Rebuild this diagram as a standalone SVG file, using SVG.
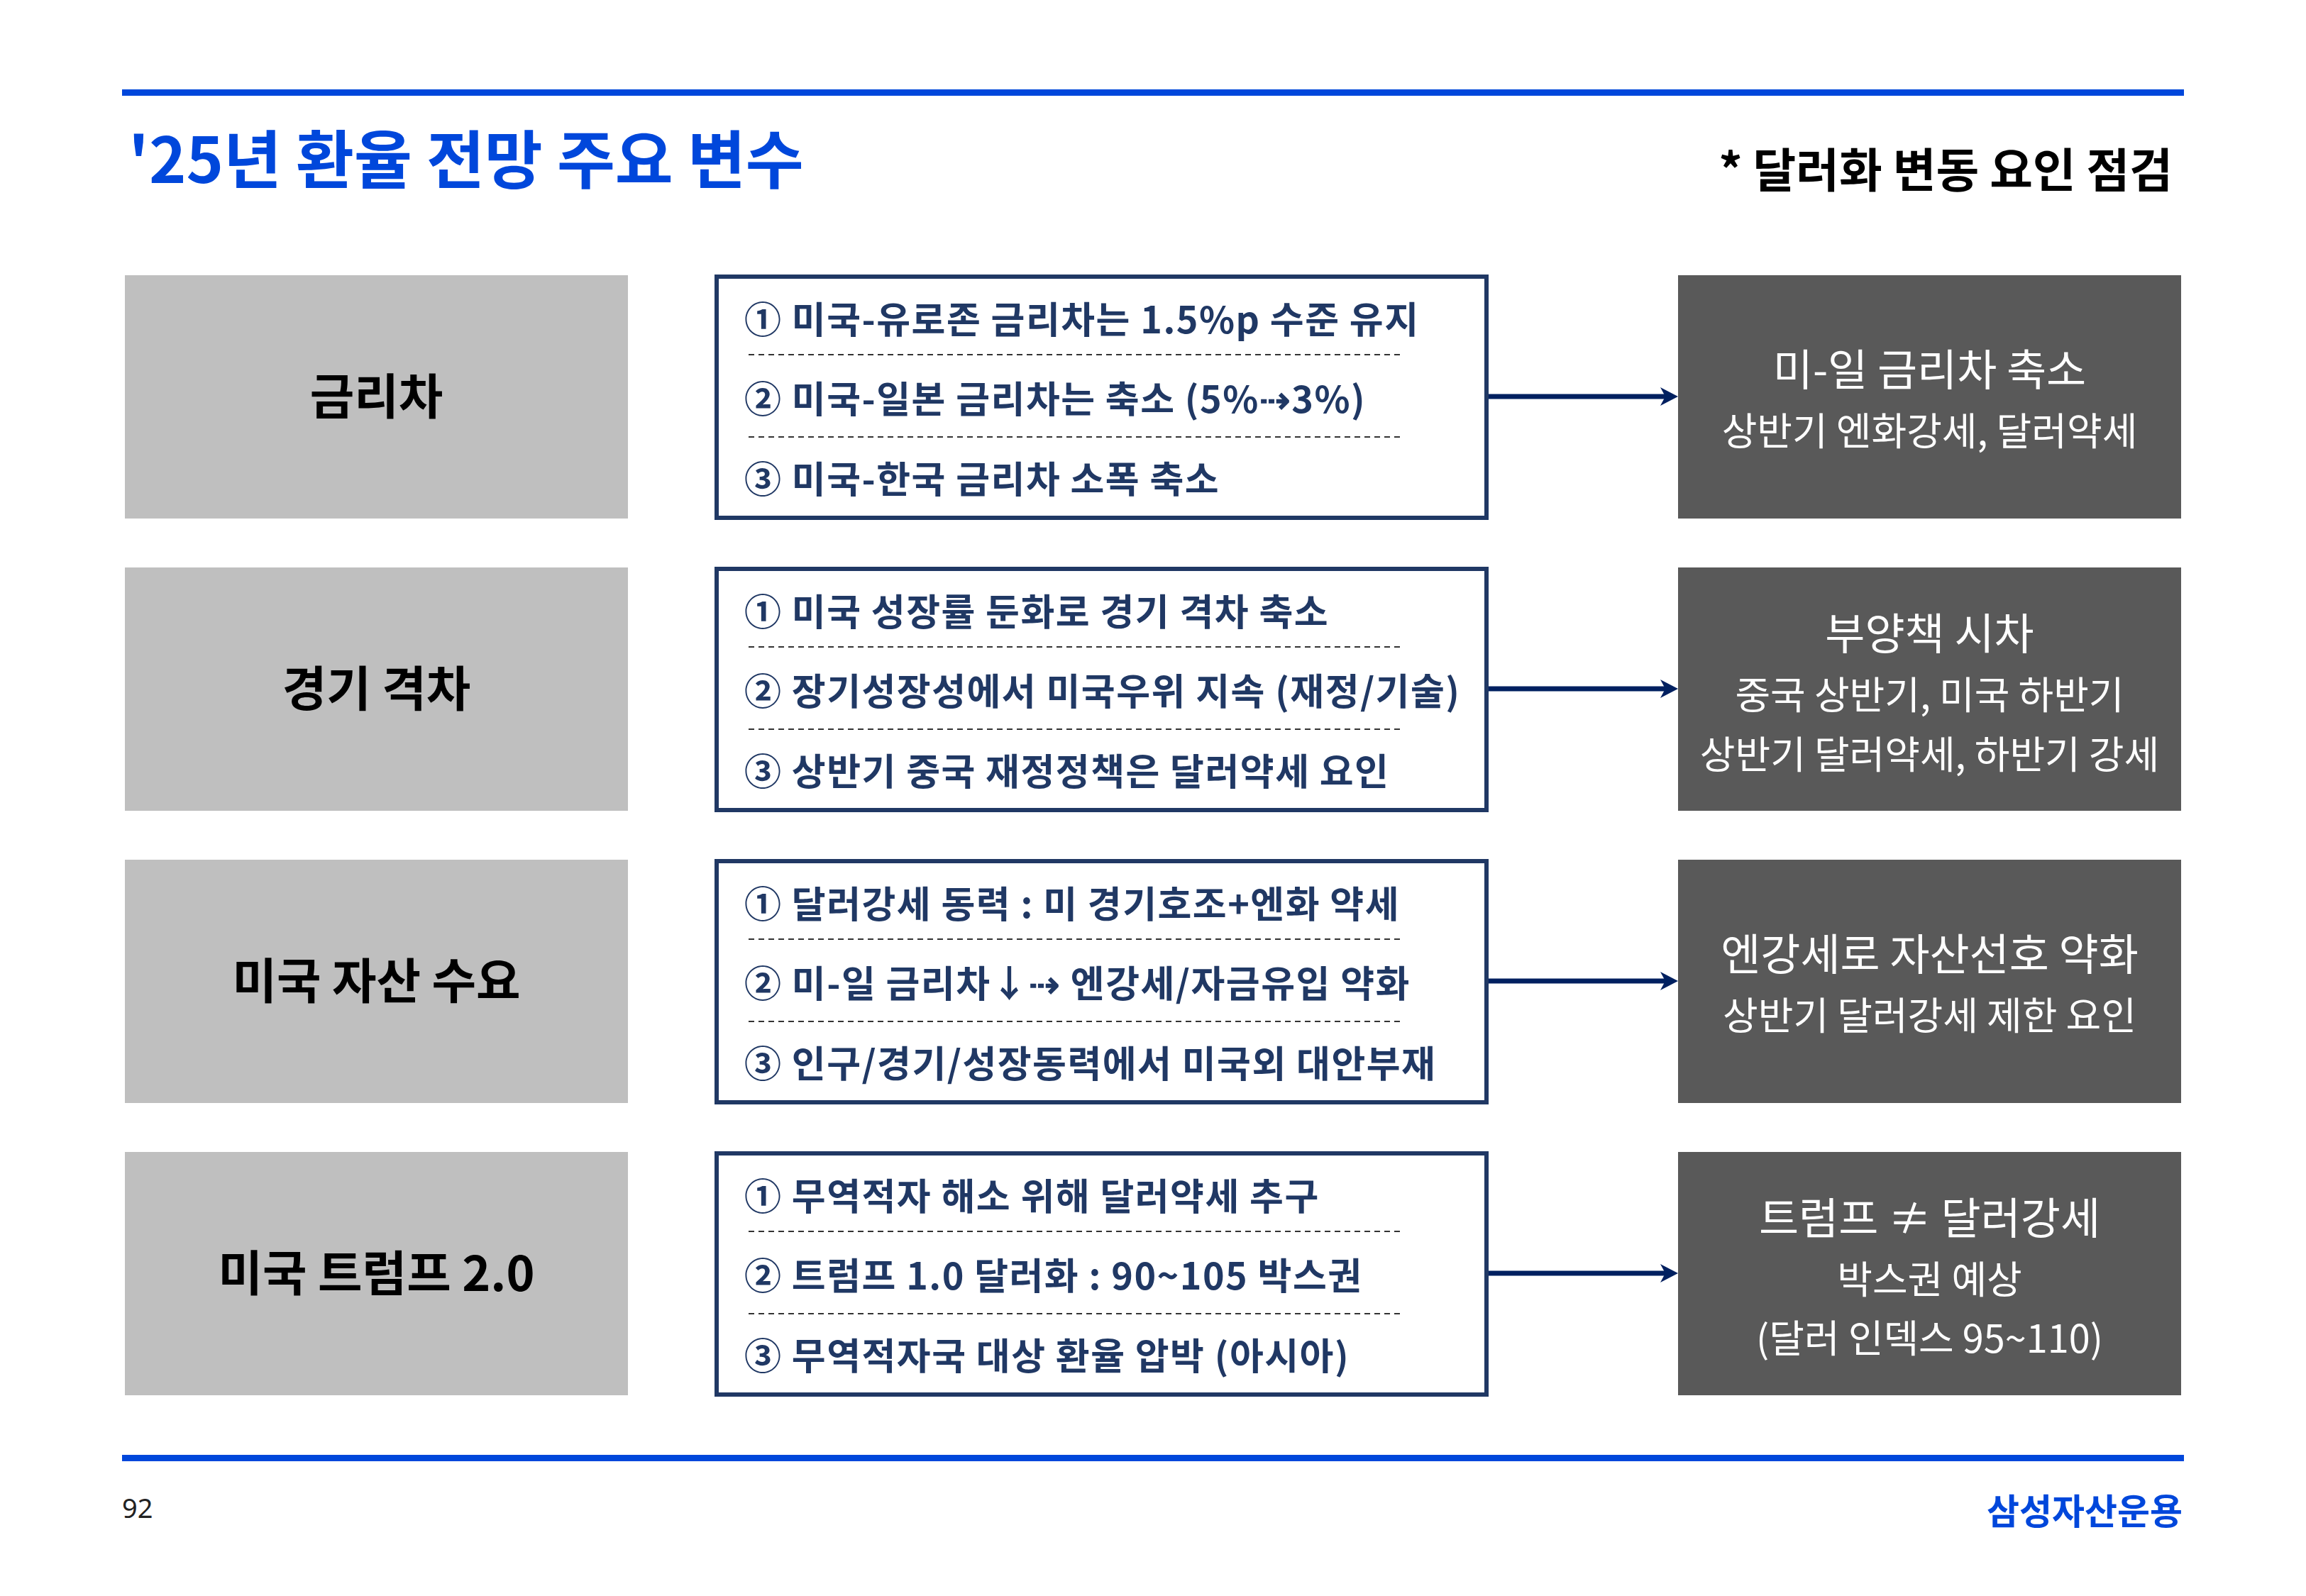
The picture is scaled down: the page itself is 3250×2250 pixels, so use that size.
<svg xmlns="http://www.w3.org/2000/svg" width="3250" height="2250" viewBox="0 0 3250 2250">
<style>
.kr{font-family:"Noto Sans CJK KR","Noto Sans",sans-serif}
.title{font-size:89px;font-weight:700;fill:#0047DB}
.sub{font-size:66px;font-weight:700;fill:#000}
.lbl{font-size:68px;font-weight:700;fill:#000;text-anchor:middle}
.lbox{fill:#BFBFBF}
.mbox{fill:#fff;stroke:#203864;stroke-width:6}
.rbox{fill:#595959}
.item{font-size:52px;font-weight:700;fill:#203864;letter-spacing:1.5px}
.dash{stroke:#333;stroke-width:2;stroke-dasharray:8 6}
.r1{font-size:61px;fill:#fff;text-anchor:middle}
.r2{font-size:54px;fill:#fff;text-anchor:middle}
.conn{stroke:#002060;stroke-width:7;fill:none}
.band{fill:#0047DB}
</style>
<defs>
<marker id="ah" markerUnits="userSpaceOnUse" markerWidth="30" markerHeight="30" refX="12" refY="13" orient="auto">
<path d="M0,0 L25,13 L0,26 L7,13 Z" fill="#002060"/>
</marker>
</defs>
<rect width="3250" height="2250" fill="#fff"/>
<rect class="band" x="172" y="126" width="2906" height="9"/>
<text class="kr title" x="181" y="258">'25년 환율 전망 주요 변수</text>
<text class="kr sub" x="3062" y="264" text-anchor="end">* 달러화 변동 요인 점검</text>

<g id="row1-label"><rect class="lbox" x="176" y="388" width="709" height="343"/><text class="kr lbl" x="530.5" y="584">금리차</text></g>
<g id="row1-items"><rect class="mbox" x="1010" y="390" width="1085" height="340"/>
<text class="kr item" x="1049" y="470">① 미국-유로존 금리차는 1.5%p 수준 유지</text>
<line class="dash" x1="1055" y1="500" x2="1975" y2="500"/>
<text class="kr item" x="1049" y="582">② 미국-일본 금리차는 축소 (5%⇢3%)</text>
<line class="dash" x1="1055" y1="616" x2="1975" y2="616"/>
<text class="kr item" x="1049" y="695">③ 미국-한국 금리차 소폭 축소</text></g>
<g id="row1-result"><rect class="rbox" x="2365" y="388" width="709" height="343"/>
<text class="kr r1" x="2719.5" y="544">미-일 금리차 축소</text>
<text class="kr r2" x="2719.5" y="628">상반기 엔화강세, 달러약세</text></g>

<g id="row2-label"><rect class="lbox" x="176" y="800" width="709" height="343"/><text class="kr lbl" x="530.5" y="996">경기 격차</text></g>
<g id="row2-items"><rect class="mbox" x="1010" y="802" width="1085" height="340"/>
<text class="kr item" x="1049" y="882">① 미국 성장률 둔화로 경기 격차 축소</text>
<line class="dash" x1="1055" y1="912" x2="1975" y2="912"/>
<text class="kr item" x="1049" y="994">② 장기성장성에서 미국우위 지속 (재정/기술)</text>
<line class="dash" x1="1055" y1="1028" x2="1975" y2="1028"/>
<text class="kr item" x="1049" y="1107">③ 상반기 중국 재정정책은 달러약세 요인</text></g>
<g id="row2-result"><rect class="rbox" x="2365" y="800" width="709" height="343"/>
<text class="kr r1" x="2719.5" y="916">부양책 시차</text>
<text class="kr r2" x="2719.5" y="1000">중국 상반기, 미국 하반기</text>
<text class="kr r2" x="2719.5" y="1084">상반기 달러약세, 하반기 강세</text></g>

<g id="row3-label"><rect class="lbox" x="176" y="1212" width="709" height="343"/><text class="kr lbl" x="530.5" y="1408">미국 자산 수요</text></g>
<g id="row3-items"><rect class="mbox" x="1010" y="1214" width="1085" height="340"/>
<text class="kr item" x="1049" y="1294">① 달러강세 동력 : 미 경기호조+엔화 약세</text>
<line class="dash" x1="1055" y1="1324" x2="1975" y2="1324"/>
<text class="kr item" x="1049" y="1406">② 미-일 금리차↓⇢ 엔강세/자금유입 약화</text>
<line class="dash" x1="1055" y1="1440" x2="1975" y2="1440"/>
<text class="kr item" x="1049" y="1519">③ 인구/경기/성장동력에서 미국외 대안부재</text></g>
<g id="row3-result"><rect class="rbox" x="2365" y="1212" width="709" height="343"/>
<text class="kr r1" x="2719.5" y="1368">엔강세로 자산선호 약화</text>
<text class="kr r2" x="2719.5" y="1452">상반기 달러강세 제한 요인</text></g>

<g id="row4-label"><rect class="lbox" x="176" y="1624" width="709" height="343"/><text class="kr lbl" x="530.5" y="1820">미국 트럼프 2.0</text></g>
<g id="row4-items"><rect class="mbox" x="1010" y="1626" width="1085" height="340"/>
<text class="kr item" x="1049" y="1706">① 무역적자 해소 위해 달러약세 추구</text>
<line class="dash" x1="1055" y1="1736" x2="1975" y2="1736"/>
<text class="kr item" x="1049" y="1818">② 트럼프 1.0 달러화 : 90~105 박스권</text>
<line class="dash" x1="1055" y1="1852" x2="1975" y2="1852"/>
<text class="kr item" x="1049" y="1931">③ 무역적자국 대상 환율 압박 (아시아)</text></g>
<g id="row4-result"><rect class="rbox" x="2365" y="1624" width="709" height="343"/>
<text class="kr r1" x="2719.5" y="1740">트럼프 ≠ 달러강세</text>
<text class="kr r2" x="2719.5" y="1824">박스권 예상</text>
<text class="kr r2" x="2719.5" y="1907">(달러 인덱스 95~110)</text></g>

<g id="connectors">
<line class="conn" x1="2098" y1="559" x2="2352" y2="559" marker-end="url(#ah)"/>
<line class="conn" x1="2098" y1="971" x2="2352" y2="971" marker-end="url(#ah)"/>
<line class="conn" x1="2098" y1="1383" x2="2352" y2="1383" marker-end="url(#ah)"/>
<line class="conn" x1="2098" y1="1795" x2="2352" y2="1795" marker-end="url(#ah)"/>
</g>

<rect class="band" x="172" y="2051" width="2906" height="9"/>
<text x="172" y="2140" style="font-family:'Noto Sans',sans-serif;font-size:38px;fill:#222">92</text>
<text class="kr" x="3076" y="2149" text-anchor="end" style="font-size:50px;font-weight:700;fill:#0047DB">삼성자산운용</text>
</svg>
